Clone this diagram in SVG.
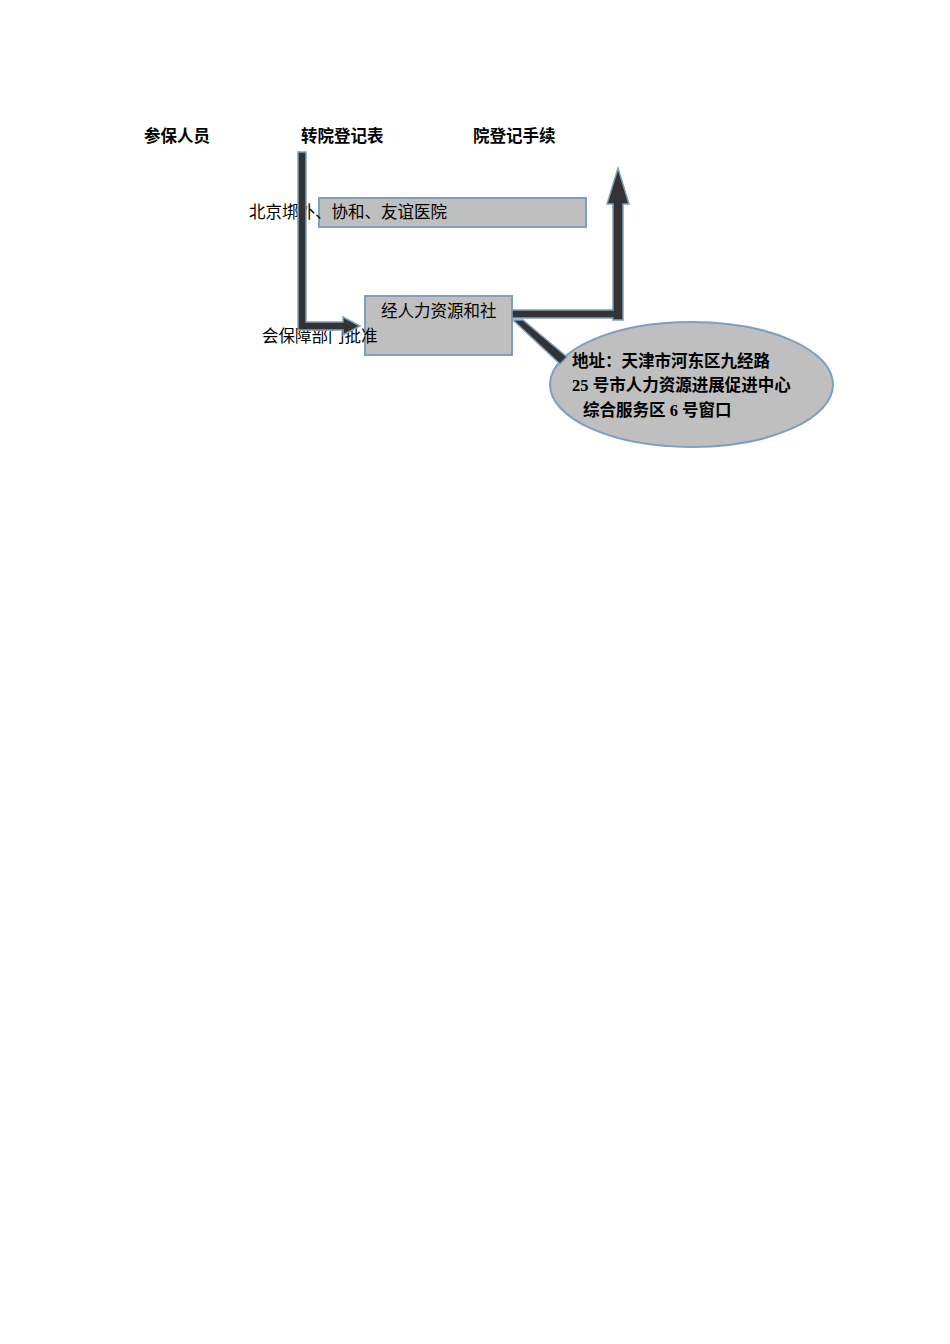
<svg xmlns="http://www.w3.org/2000/svg" width="950" height="1344" viewBox="0 0 950 1344">
<style>
text{font-family:"Liberation Serif","Noto Sans CJK SC",sans-serif;font-size:16.5px;fill:#000}
.b{font-weight:bold}
.box{fill:#bfbfbf;stroke:#7f9fbf;stroke-width:2}
.arw{fill:#333333;stroke:#7f9fbf;stroke-width:1.5;stroke-linejoin:miter}
</style>
<rect width="950" height="1344" fill="#fff"/>
<g id="labels">
<text class="b" x="144" y="142">参保人员</text>
<text class="b" x="301" y="142">转院登记表</text>
<text class="b" x="473" y="142">院登记手续</text>
</g>
<g id="node-hospital">
<rect class="box" x="319" y="198" width="267" height="29"/>
<text x="249" y="218">北京垹外、协和、友谊医院</text>
</g>
<g id="node-dept">
<rect class="box" x="365" y="296" width="147" height="59"/>
<text x="381" y="317">经人力资源和社</text>
<text x="262" y="342">会保障部门批准</text>
</g>
<g id="node-address">
<ellipse class="box" cx="691.5" cy="384.5" rx="141.5" ry="62.5"/>
<text class="b" x="572" y="367">地址：天津市河东区九经路</text>
<text class="b" x="572" y="391">25 号市人力资源进展促进中心</text>
<text class="b" x="583" y="416">综合服务区 6 号窗口</text>
</g>
<g id="connectors">
<path class="arw" d="M298,152 H306 V322 H343 V317 L360,326 L343,335 V330 H298 Z"/>
<path class="arw" d="M512,310 H613 V204 H607 L618,168 L629,204 H623 V320 H613 V318 H512 Z"/>
<path class="arw" d="M513,320 L523,320 L567,357 L560,364 Z"/>
</g>
</svg>
